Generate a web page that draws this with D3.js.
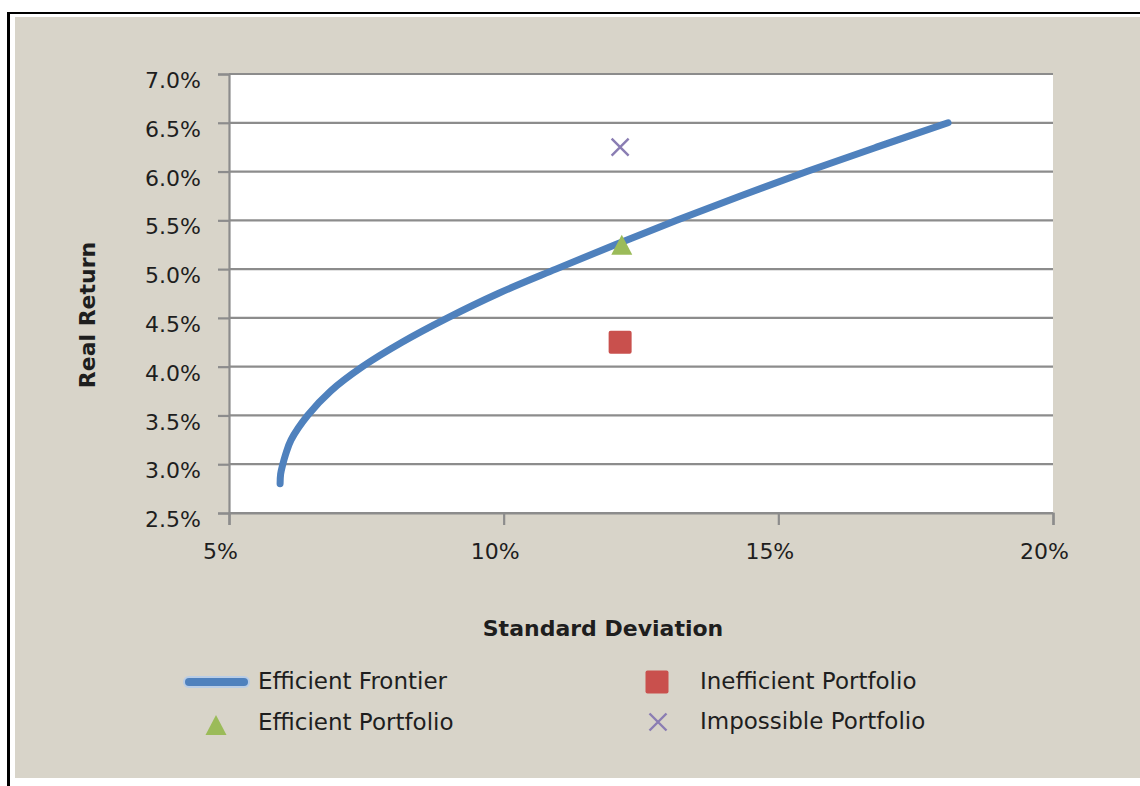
<!DOCTYPE html>
<html>
<head>
<meta charset="utf-8">
<script src="https://cdn.jsdelivr.net/npm/d3@7"></script>
<style>
  html, body { margin: 0; padding: 0; background: #ffffff; }
  svg { display: block; }
  text { font-family: "DejaVu Sans", Verdana, sans-serif; fill: #1e1e1e; }
</style>
</head>
<body>
<svg id="chart" width="1140" height="786"></svg>
<script>
// Efficient frontier: standard deviation (%) against real return (%)
const frontierStd = [5.93, 5.94, 5.98, 6.03, 6.13, 6.43, 6.85, 7.43, 8.15, 8.98, 9.9, 10.95, 12.03, 13.15, 14.31, 15.52, 16.79, 18.09];
const frontierRet = [2.8, 2.9, 3.0, 3.1, 3.25, 3.5, 3.75, 4.0, 4.25, 4.5, 4.75, 5.0, 5.25, 5.5, 5.75, 6.0, 6.25, 6.5];

// Individual portfolios
const portfolioNames = ["Efficient Portfolio", "Inefficient Portfolio", "Impossible Portfolio"];
const portfolioStd = [12.15, 12.12, 12.12];
const portfolioRet = [5.25, 4.25, 6.25];

// Axis ticks
const xTicks = [5, 10, 15, 20];
const yTicks = [2.5, 3.0, 3.5, 4.0, 4.5, 5.0, 5.5, 6.0, 6.5, 7.0];

const svg = d3.select("#chart");

// frame and panel
svg.append("rect").attr("x", 15).attr("y", 17).attr("width", 1125).attr("height", 761).attr("fill", "#d8d4c9");
svg.append("line").attr("x1", 7).attr("x2", 1140).attr("y1", 13).attr("y2", 13).attr("stroke", "#000").attr("stroke-width", 2);
svg.append("line").attr("x1", 8.5).attr("x2", 8.5).attr("y1", 12).attr("y2", 786).attr("stroke", "#000").attr("stroke-width", 3);

const plot = { left: 229, right: 1053, top: 74, bottom: 513 };

const x = d3.scaleLinear().domain([5, 20]).range([plot.left, plot.right]);
const y = d3.scaleLinear().domain([2.5, 7.0]).range([plot.bottom, plot.top]);

svg.append("rect")
  .attr("x", plot.left).attr("y", plot.top)
  .attr("width", plot.right - plot.left).attr("height", plot.bottom - plot.top)
  .attr("fill", "#ffffff");

const gridColor = "#8c8c8c";

// horizontal gridlines
svg.append("g")
  .selectAll("line")
  .data(yTicks)
  .join("line")
  .attr("x1", plot.left).attr("x2", plot.right)
  .attr("y1", d => y(d)).attr("y2", d => y(d))
  .attr("stroke", gridColor).attr("stroke-width", 2.2);

// y axis
const yAxis = svg.append("g")
  .attr("transform", `translate(${plot.left},0)`)
  .call(d3.axisLeft(y).tickValues(yTicks).tickSize(11).tickPadding(17).tickFormat(d => d.toFixed(1) + "%"));
yAxis.select(".domain").attr("stroke", gridColor).attr("stroke-width", 2.2);
yAxis.selectAll(".tick line").attr("stroke", gridColor).attr("stroke-width", 2.2);
yAxis.selectAll(".tick text")
  .attr("font-size", 22).attr("fill", "#222").attr("dy", "0.62em")
  .style("font-family", "'DejaVu Sans', Verdana, sans-serif");

// x axis
const xAxis = svg.append("g")
  .attr("transform", `translate(0,${plot.bottom})`)
  .call(d3.axisBottom(x).tickValues(xTicks).tickSize(12).tickPadding(18).tickFormat(d => d + "%"));
xAxis.select(".domain").attr("stroke", gridColor).attr("stroke-width", 2.2);
xAxis.selectAll(".tick line").attr("stroke", gridColor).attr("stroke-width", 2.2);
xAxis.selectAll(".tick text")
  .attr("font-size", 22).attr("fill", "#222").attr("dx", -9)
  .style("font-family", "'DejaVu Sans', Verdana, sans-serif");

// frontier curve
const frontier = frontierStd.map((s, i) => ({ std: s, ret: frontierRet[i] }));
const line = d3.line().x(d => x(d.std)).y(d => y(d.ret)).curve(d3.curveCatmullRom.alpha(0.5));

svg.append("path")
  .attr("d", line(frontier))
  .attr("fill", "none").attr("stroke", "#4f81bd").attr("stroke-width", 7)
  .attr("stroke-linecap", "round").attr("stroke-linejoin", "round");

// marker shapes
const colors = { eff: "#9bbb59", ineff: "#c9504d", imp: "#8a7db3" };

function triangle(g, cx, cy, size) {
  const h = size * 0.95;
  g.append("path")
    .attr("d", `M${cx},${cy - h / 2} L${cx + size / 2},${cy + h / 2} L${cx - size / 2},${cy + h / 2} Z`)
    .attr("fill", colors.eff);
}
function square(g, cx, cy, size) {
  g.append("rect")
    .attr("x", cx - size / 2).attr("y", cy - size / 2)
    .attr("width", size).attr("height", size)
    .attr("rx", 2).attr("fill", colors.ineff);
}
function cross(g, cx, cy, size) {
  const r = size / 2;
  g.append("path")
    .attr("d", `M${cx - r},${cy - r} L${cx + r},${cy + r} M${cx - r},${cy + r} L${cx + r},${cy - r}`)
    .attr("stroke", colors.imp).attr("stroke-width", 2.4).attr("fill", "none");
}

const marks = svg.append("g");
triangle(marks, x(portfolioStd[0]), y(portfolioRet[0]), 21);
square(marks, x(portfolioStd[1]), y(portfolioRet[1]), 23);
cross(marks, x(portfolioStd[2]), y(portfolioRet[2]), 17);

// axis titles
svg.append("text")
  .attr("x", 603).attr("y", 636)
  .attr("text-anchor", "middle").attr("font-size", 22).attr("font-weight", "bold")
  .text("Standard Deviation");

svg.append("text")
  .attr("transform", "translate(95,315) rotate(-90)")
  .attr("text-anchor", "middle").attr("font-size", 22).attr("font-weight", "bold")
  .text("Real Return");

// legend
const legend = svg.append("g");
legend.append("line")
  .attr("x1", 189).attr("x2", 244).attr("y1", 682).attr("y2", 682)
  .attr("stroke", "#b9cde6").attr("stroke-width", 12).attr("stroke-linecap", "round");
legend.append("line")
  .attr("x1", 189).attr("x2", 244).attr("y1", 682).attr("y2", 682)
  .attr("stroke", "#4f81bd").attr("stroke-width", 8).attr("stroke-linecap", "round");
triangle(legend, 216, 725, 21);
square(legend, 657, 682, 23);
cross(legend, 658, 722, 17);

const legendItems = [
  { label: "Efficient Frontier", x: 258, y: 689 },
  { label: portfolioNames[0], x: 258, y: 730 },
  { label: portfolioNames[1], x: 700, y: 689 },
  { label: portfolioNames[2], x: 700, y: 729 }
];
legend.selectAll("text.item")
  .data(legendItems)
  .join("text")
  .attr("class", "item")
  .attr("x", d => d.x).attr("y", d => d.y)
  .attr("font-size", 23)
  .text(d => d.label);
</script>
</body>
</html>
